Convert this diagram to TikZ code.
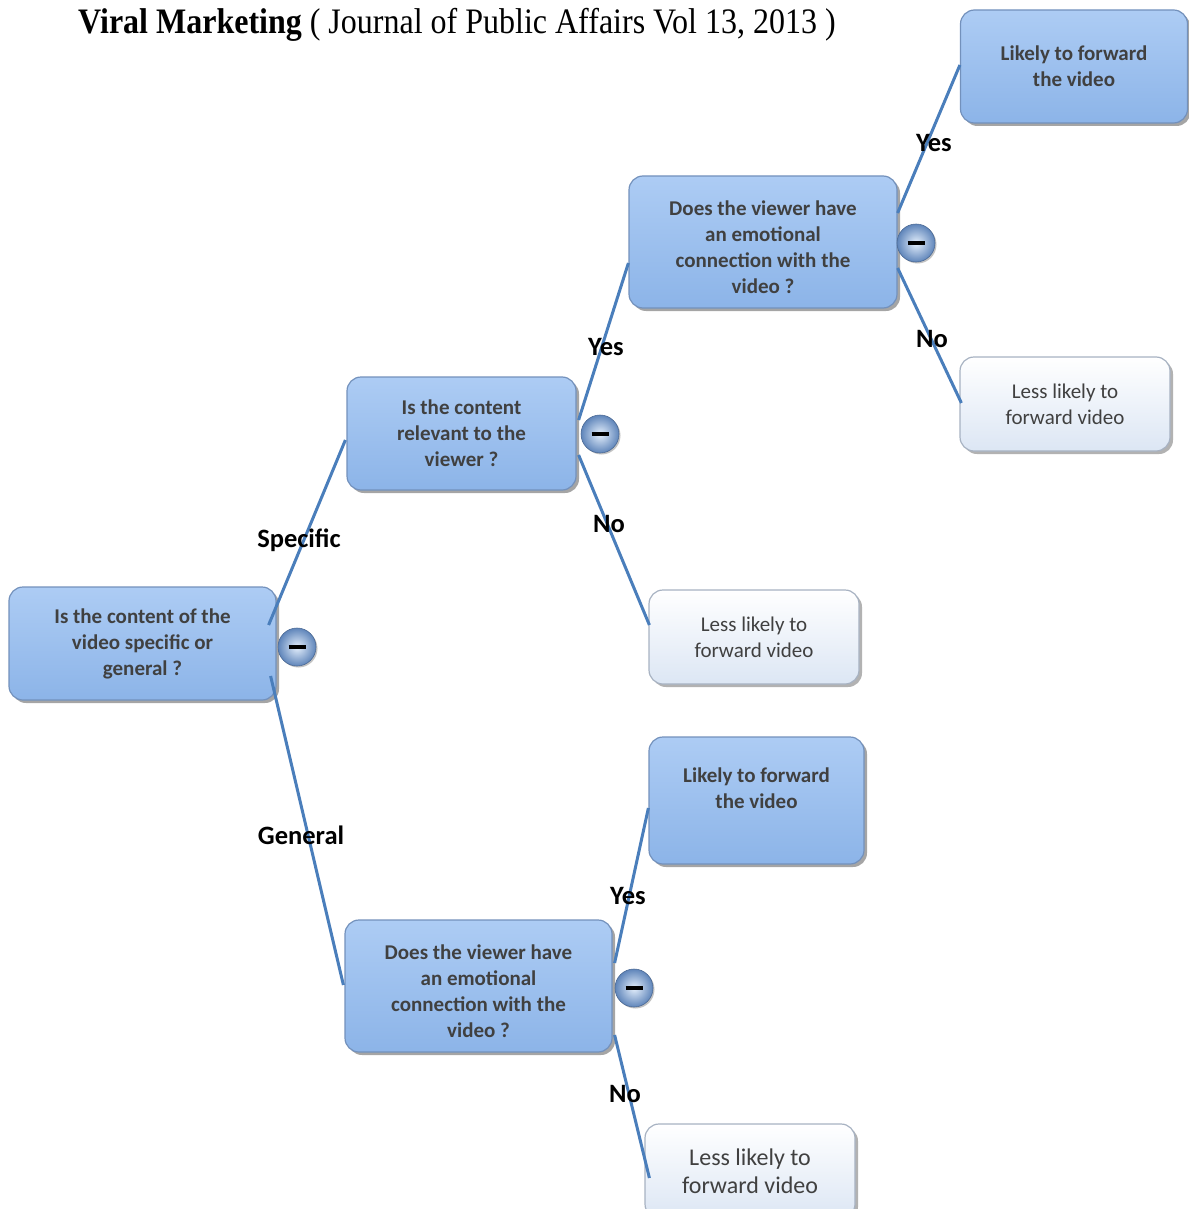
\documentclass[tikz,border=0pt]{standalone}
\usepackage{fontspec}
\setmainfont{Carlito}
\newfontfamily\titlefont{Liberation Serif}
\usetikzlibrary{shadows,calc}
\definecolor{linkc}{HTML}{4A7EBB}
\definecolor{boxtop}{HTML}{ADCCF4}
\definecolor{boxbot}{HTML}{8CB4E8}
\definecolor{boxedge}{HTML}{7391BC}
\definecolor{lighttop}{HTML}{FFFFFF}
\definecolor{lightbot}{HTML}{DCE6F4}
\definecolor{lightedge}{HTML}{A7B2C2}
\definecolor{textc}{HTML}{404040}
\definecolor{ballhi}{HTML}{E4EFFC}
\definecolor{ballrim}{HTML}{5F85BA}
\begin{document}
\begin{tikzpicture}[x=1pt,y=-1pt,
  qbox/.style={rectangle, rounded corners=14pt, draw=boxedge, line width=1.2pt,
    top color=boxtop, bottom color=boxbot,
    drop shadow={shadow xshift=3pt, shadow yshift=-3pt, opacity=0.5, fill=black!70},
    font=\fontsize{21}{26}\selectfont\bfseries, text=textc, align=center, inner sep=0pt},
  lbox/.style={rectangle, rounded corners=14pt, draw=lightedge, line width=1.2pt,
    top color=lighttop, bottom color=lightbot,
    drop shadow={shadow xshift=3pt, shadow yshift=-3pt, opacity=0.5, fill=black!60},
    font=\fontsize{21}{26}\selectfont, text=textc, align=center, inner sep=0pt},
  qtext/.style={font=\fontsize{21}{26}\selectfont\bfseries, text=textc, align=center, inner sep=0pt},
  link/.style={draw=linkc, line width=3pt},
  ball/.style={circle, minimum size=38pt, inner sep=0pt, inner color=ballhi, outer color=ballrim,
    draw=ballrim!80!black, line width=0.6pt,
    drop shadow={shadow xshift=1.5pt, shadow yshift=-1.5pt, opacity=0.4, fill=black!60}},
  lab/.style={font=\fontsize{26.5}{26.5}\selectfont\bfseries, text=black, inner sep=0pt}
]
\useasboundingbox (0,0) rectangle (1188,1209);

% title
\node[anchor=west, inner sep=0pt] (title) at (78,25)
  {\scalebox{1}[1.12]{\titlefont\fontsize{32}{32}\selectfont\textbf{Viral Marketing} ( Journal of Public Affairs Vol 13, 2013 )}};

% boxes
\node[qbox, minimum width=267pt, minimum height=113pt] (root) at (142.5,643.5)
  {Is the content of the\\video specific or\\general ?};
\node[qbox, minimum width=229pt, minimum height=113pt] (q2) at (461.5,433.5)
  {Is the content\\relevant to the\\viewer ?};
\node[qbox, minimum width=268pt, minimum height=132pt] (q3a) at (763,242) {};
\node[qtext] (q3at) at (763,247)
  {Does the viewer have\\an emotional\\connection with the\\video ?};
\node[qbox, minimum width=227pt, minimum height=113pt] (lyA) at (1074,66.5)
  {Likely to forward\\the video};
\node[lbox, minimum width=210pt, minimum height=94pt] (lsA) at (1065,404)
  {Less likely to\\forward video};
\node[lbox, minimum width=210pt, minimum height=94pt] (lsM) at (754,637)
  {Less likely to\\forward video};
\node[qbox, minimum width=215pt, minimum height=127pt] (lyB) at (756.5,800.5) {};
\node[qtext] (lyBt) at (756.5,788)
  {Likely to forward\\the video};
\node[qbox, minimum width=267pt, minimum height=132pt] (q3b) at (478.5,986) {};
\node[qtext] (q3bt) at (478.5,991)
  {Does the viewer have\\an emotional\\connection with the\\video ?};
\node[lbox, minimum width=210pt, minimum height=94pt, font=\fontsize{24}{28}\selectfont] (lsB) at (750,1171)
  {Less likely to\\forward video};

% connectors
\draw[link] ([shift={(-8,-18.5)}]root.east) -- ([shift={(-1,6.5)}]q2.west);
\draw[link] ([shift={(-6,32.5)}]root.east) -- ([shift={(-1,-1)}]q3b.west);
\draw[link] ([shift={(2,-13.5)}]q2.east) -- ([shift={(0,21)}]q3a.west);
\draw[link] ([shift={(2,21.5)}]q2.east) -- ([shift={(1,-12)}]lsM.west);
\draw[link] ([shift={(0,-29)}]q3a.east) -- ([shift={(0,-1.5)}]lyA.west);
\draw[link] ([shift={(0,26)}]q3a.east) -- ([shift={(2,-1)}]lsA.west);
\draw[link] ([shift={(2,-23)}]q3b.east) -- ([shift={(0,7.5)}]lyB.west);
\draw[link] ([shift={(2,49)}]q3b.east) -- ([shift={(5,7)}]lsB.west);

% collapse balls
\node[ball] (m1) at (297,647) {\rule[-1.75pt]{17pt}{3.5pt}};
\node[ball] (m2) at (600,434) {\rule[-1.75pt]{17pt}{3.5pt}};
\node[ball] (m3) at (916,243) {\rule[-1.75pt]{17pt}{3.5pt}};
\node[ball] (m4) at (634,988) {\rule[-1.75pt]{17pt}{3.5pt}};

% labels
\node[lab] (l1) at (299,540) {Specific};
\node[lab] (l2) at (301,835) {General};
\node[lab] (l3) at (606,347) {Yes};
\node[lab] (l4) at (609,524) {No};
\node[lab] (l5) at (934,143) {Yes};
\node[lab] (l6) at (932,339) {No};
\node[lab] (l7) at (628,896) {Yes};
\node[lab] (l8) at (625,1094) {No};
\end{tikzpicture}
\end{document}
